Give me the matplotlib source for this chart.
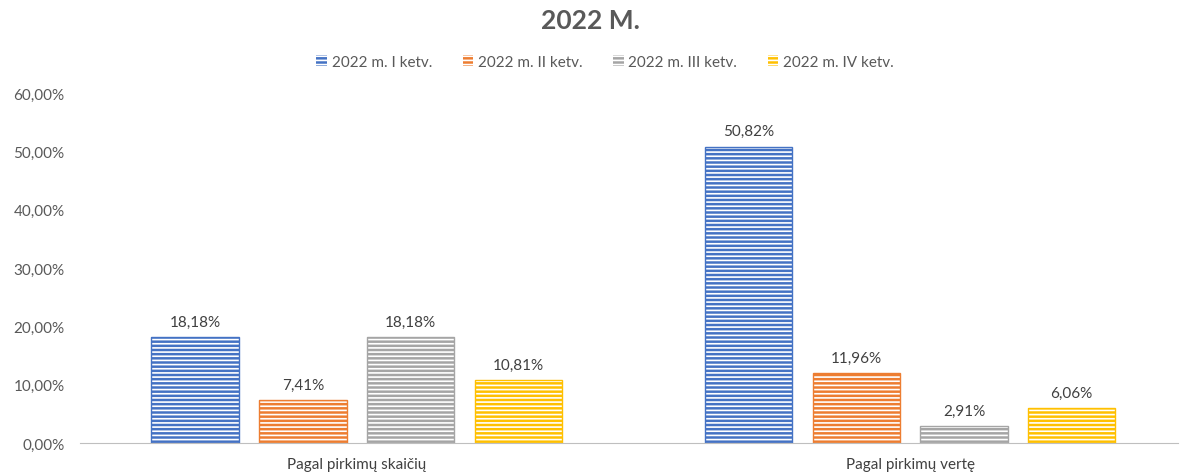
import matplotlib
matplotlib.use("Agg")
import matplotlib.pyplot as plt
import numpy as np
from matplotlib.patches import Patch

plt.rcParams['font.family'] = ['Lato', 'DejaVu Sans']
plt.rcParams['hatch.linewidth'] = 1.2

categories = ["Pagal pirkimų skaičių", "Pagal pirkimų vertę"]
series = ["2022 m. I ketv.", "2022 m. II ketv.", "2022 m. III ketv.", "2022 m. IV ketv."]
values = [
    [18.18, 50.82],
    [7.41, 11.96],
    [18.18, 2.91],
    [10.81, 6.06],
]
colors = ["#4472C4", "#ED7D31", "#A5A5A5", "#FFC000"]
yticks = [0, 10, 20, 30, 40, 50, 60]

txt = "#595959"
fig = plt.figure(figsize=(11.82, 4.77), dpi=100)
ax = fig.add_axes([80/1182, 1 - 444/477, 1098/1182, 350/477])

x = np.arange(len(categories))
w = 0.158
step = 0.1946
for i, (s, vals, c) in enumerate(zip(series, values, colors)):
    pos = x + (i - 1.5) * step
    ax.bar(pos, vals, width=w, color=c, edgecolor="white", linewidth=0, hatch="----", label=s)
    ax.bar(pos, vals, width=w, facecolor="none", edgecolor=c, linewidth=1.0)
    for p, v in zip(pos, vals):
        ax.text(p, v + 1.4, f"{v:.2f}".replace(".", ",") + "%", ha="center", va="bottom",
                fontsize=11, color="#404040")

# extend right limit so the second group sits where it does in the reference
ax.set_xlim(-0.5, 1.484)
ax.set_ylim(0, 60)
ax.set_yticks(yticks)
ax.set_yticklabels([f"{t:.2f}".replace(".", ",") + "%" for t in yticks], fontsize=11, color=txt)
ax.set_xticks(x)
ax.set_xticklabels(categories, fontsize=11, color="#404040")
ax.tick_params(axis="both", length=0)
ax.tick_params(axis="x", pad=10)
ax.tick_params(axis="y", pad=11)
for sp in ["top", "right", "left"]:
    ax.spines[sp].set_visible(False)
ax.spines["bottom"].set_color("#BFBFBF")

handles = [Patch(facecolor=c, edgecolor="white", hatch="----", linewidth=0) for c in colors]
fig.legend(handles, series, loc="center", bbox_to_anchor=(605/1182, 1 - 63/477), ncol=4,
           frameon=False, fontsize=11, handlelength=0.7, handleheight=0.7,
           columnspacing=2.0, handletextpad=0.3, labelcolor=txt)

fig.text(590/1182, 1 - 21/477, "2022 M.", ha="center", va="center", fontsize=19,
         fontweight="bold", color=txt)

fig.savefig("out.png", dpi=100)
